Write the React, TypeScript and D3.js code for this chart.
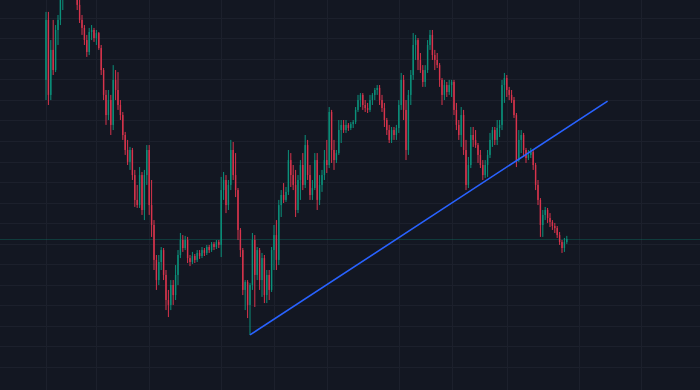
import React from "react";
import * as d3 from "d3";

// OHLC series (daily bars)
const opens = [
  139.7,168.9,132.4,154.3,144.5,164.0,168.9,178.6,185.9,190.8,
  193.2,188.3,190.8,183.5,176.2,168.9,165.0,159.1,153.3,163.0,
  164.0,160.1,162.5,155.2,144.5,132.4,122.6,129.9,117.8,139.7,
  134.8,127.5,122.6,112.9,105.6,99.8,105.6,93.4,81.3,78.8,
  93.4,76.4,93.4,105.6,78.8,69.1,52.1,42.3,51.1,56.9,
  44.8,32.6,30.2,39.9,35.0,44.8,54.5,61.8,57.9,61.8,
  53.0,51.1,54.0,52.1,55.5,54.0,56.9,55.5,58.4,56.9,
  59.9,58.4,60.8,59.4,86.1,91.0,78.8,88.6,105.6,93.4,
  86.1,66.7,56.9,37.5,41.4,30.2,39.9,61.8,44.8,56.9,
  42.3,53.0,35.0,44.8,37.5,56.9,64.2,52.1,78.8,83.7,
  81.3,85.2,100.7,93.4,88.6,76.4,91.0,98.3,88.6,108.0,
  93.4,83.7,87.1,100.7,81.3,88.6,93.4,100.7,98.3,124.1,
  105.6,100.7,104.1,115.3,117.8,115.3,117.8,116.3,118.2,119.2,
  125.1,129.9,132.4,127.5,126.0,125.1,129.9,132.4,134.8,135.8,
  129.9,126.0,120.2,115.3,110.5,115.3,112.9,116.3,127.5,139.7,
  125.1,105.6,132.4,142.1,156.7,159.1,149.4,144.5,138.7,144.5,
  156.7,161.6,151.8,149.4,146.9,139.7,132.4,137.2,133.8,137.2,
  138.7,125.1,117.8,112.9,122.6,105.6,88.6,98.3,112.9,110.5,
  108.0,103.2,98.3,93.4,98.3,103.2,110.5,115.3,110.5,116.3,
  117.8,137.2,140.6,134.8,132.4,129.9,122.6,100.7,110.5,112.9,
  105.6,101.7,103.2,104.6,98.3,88.6,81.3,69.1,74.0,76.4,
  72.5,70.6,68.6,67.6,64.2,60.8,57.9,60.8,
];
const highs = [
  172.8,172.8,159.1,168.9,166.4,171.3,181.0,188.3,195.6,197.1,
  195.6,193.2,193.2,185.9,178.6,171.3,166.4,161.6,165.0,166.4,
  165.0,164.0,163.0,156.7,145.5,134.8,134.8,132.4,146.9,144.5,
  143.5,129.9,124.1,114.4,110.5,107.1,106.6,95.9,88.6,97.3,
  94.9,95.9,108.0,108.0,91.0,71.5,54.5,54.5,58.4,57.9,
  47.2,37.5,42.3,42.3,49.6,56.9,65.2,64.2,63.8,63.3,
  54.5,56.0,55.0,56.9,56.9,58.4,57.9,59.4,59.4,60.8,
  60.8,61.8,61.8,92.5,94.9,93.4,91.0,110.5,109.5,104.1,
  87.1,67.6,57.9,42.3,42.3,40.9,65.2,64.2,58.4,57.9,
  55.5,54.5,47.2,47.2,58.4,69.1,71.5,81.3,86.1,89.5,
  87.6,105.6,104.1,98.3,95.9,93.4,100.7,104.1,112.9,110.5,
  98.3,91.0,104.1,104.1,93.4,95.9,105.6,110.5,126.5,125.1,
  110.5,105.6,120.2,120.2,120.2,120.2,118.7,119.2,120.2,126.5,
  132.4,133.3,133.3,129.9,128.5,132.4,133.3,135.8,137.2,137.2,
  132.4,128.5,121.2,117.8,116.8,116.8,117.8,129.9,143.1,142.1,
  129.9,134.8,144.5,162.5,161.6,160.1,152.8,146.9,146.9,159.1,
  164.0,164.0,154.3,152.8,147.9,140.6,139.7,138.7,139.7,139.7,
  139.7,128.5,120.2,126.5,125.1,110.5,102.2,116.8,116.8,115.3,
  109.0,105.6,100.7,100.7,105.6,113.9,116.8,116.8,120.2,120.2,
  139.7,143.1,142.1,136.3,134.8,131.4,123.6,115.3,115.3,113.9,
  106.6,105.6,106.6,105.6,99.3,91.0,82.2,76.4,77.9,77.4,
  74.9,71.5,70.1,68.6,65.7,61.8,62.8,63.8,
];
const lows = [
  129.9,127.5,129.9,142.1,143.5,156.7,166.4,173.7,183.5,188.3,
  185.9,184.4,181.0,173.7,167.4,161.6,156.7,150.9,151.8,159.1,
  158.2,156.7,154.3,142.1,129.9,117.8,120.2,112.9,115.3,129.9,
  125.1,120.2,110.5,103.2,98.3,95.9,91.0,77.9,77.4,77.4,
  74.0,71.5,88.6,74.0,63.3,47.2,37.5,39.9,47.2,42.3,
  27.7,24.3,27.7,30.2,32.6,39.9,53.0,56.0,56.9,50.6,
  49.1,50.1,50.6,51.1,52.6,53.0,54.0,54.5,55.5,56.0,
  56.9,57.4,57.9,53.5,81.3,74.9,76.4,86.1,91.0,82.7,
  61.8,53.5,35.0,27.7,23.8,15.6,37.5,29.2,42.3,37.5,
  34.1,31.1,31.1,32.6,36.5,47.2,47.2,49.6,73.0,79.8,
  80.3,83.7,87.6,86.1,73.0,74.9,81.3,86.1,87.1,91.0,
  81.3,81.3,86.1,76.4,78.8,85.2,91.0,94.4,96.8,99.3,
  95.9,99.3,103.2,109.0,113.9,113.9,114.9,115.3,116.3,118.2,
  124.1,126.5,125.1,124.1,123.6,124.1,127.5,129.9,132.4,127.5,
  124.1,116.8,112.9,109.0,109.0,110.5,110.5,113.9,125.1,120.2,
  100.7,103.2,127.5,139.7,149.4,144.5,143.1,136.3,136.3,143.1,
  154.3,149.4,144.5,145.5,136.3,127.5,129.9,131.4,132.4,131.4,
  122.6,115.3,110.5,107.1,103.2,86.1,87.1,96.8,107.1,106.6,
  99.3,96.8,91.0,92.0,92.5,101.7,107.1,108.0,108.0,111.9,
  115.3,128.5,131.4,129.9,128.5,121.2,97.3,99.8,104.1,102.2,
  99.3,100.7,101.7,95.9,86.1,78.8,63.3,63.3,71.5,70.1,
  68.1,66.7,65.2,62.8,59.4,55.5,56.0,59.9,
];
const closes = [
  168.9,132.4,154.3,144.5,164.0,168.9,178.6,185.9,190.8,193.2,
  188.3,190.8,183.5,176.2,168.9,165.0,159.1,153.3,163.0,164.0,
  160.1,162.5,155.2,144.5,132.4,122.6,129.9,117.8,139.7,134.8,
  127.5,122.6,112.9,105.6,99.8,105.6,93.4,81.3,78.8,93.4,
  76.4,93.4,105.6,78.8,69.1,52.1,42.3,51.1,56.9,44.8,
  32.6,30.2,39.9,35.0,44.8,54.5,61.8,57.9,61.8,53.0,
  51.1,54.0,52.1,55.5,54.0,56.9,55.5,58.4,56.9,59.9,
  58.4,60.8,59.4,86.1,91.0,78.8,88.6,105.6,93.4,86.1,
  66.7,56.9,37.5,41.4,30.2,39.9,61.8,44.8,56.9,42.3,
  53.0,35.0,44.8,37.5,56.9,64.2,52.1,78.8,83.7,81.3,
  85.2,100.7,93.4,88.6,76.4,91.0,98.3,88.6,108.0,93.4,
  83.7,87.1,100.7,81.3,88.6,93.4,100.7,98.3,124.1,105.6,
  100.7,104.1,115.3,117.8,115.3,117.8,116.3,118.2,119.2,125.1,
  129.9,132.4,127.5,126.0,125.1,129.9,132.4,134.8,135.8,129.9,
  126.0,120.2,115.3,110.5,115.3,112.9,116.3,127.5,139.7,125.1,
  105.6,132.4,142.1,156.7,159.1,149.4,144.5,138.7,144.5,156.7,
  161.6,151.8,149.4,146.9,139.7,132.4,137.2,133.8,137.2,138.7,
  125.1,117.8,112.9,122.6,105.6,88.6,98.3,112.9,110.5,108.0,
  103.2,98.3,93.4,98.3,103.2,110.5,115.3,110.5,116.3,117.8,
  137.2,140.6,134.8,132.4,129.9,122.6,100.7,110.5,112.9,105.6,
  101.7,103.2,104.6,98.3,88.6,81.3,69.1,74.0,76.4,72.5,
  70.6,68.6,67.6,64.2,60.8,57.9,60.8,62.3,
];

// time-scale grid marks (bar indices) and price grid levels
const timeTicks = [0, 21, 43, 73, 95, 117, 147, 169, 192, 222, 248];
const priceTicks = [0, 10, 20, 30, 40, 50, 60, 70, 80, 90, 100, 110, 120, 130, 140, 150, 160, 170, 180];

// drawn trend line: [bar index, price]
const trendStart = [85, 15.6];
const trendEnd = [234, 129.4];

const W = 700;
const H = 390;
const BG = "#131722";
const GRID = "#1c202c";
const UP = "#0b907a";
const DOWN = "#d8344c";
const TREND = "#2962ff";

export default function App() {
  const n = closes.length;
  const x = d3.scaleLinear().domain([0, n - 1]).range([46, 566.8]);
  const y = d3.scaleLinear().domain([0, 170]).range([367, 17.65]);
  const bodyW = 1.4;
  const last = closes[n - 1];
  const line = d3.line<number[]>().x((d) => x(d[0])).y((d) => y(d[1]));

  return (
    <svg
      width={W}
      height={H}
      style={{ position: "fixed", left: 0, top: 0, display: "block" }}
    >
      <rect x={0} y={0} width={W} height={H} fill={BG} />
      <g>
        {priceTicks.map((t) => (
          <line key={"h" + t} x1={0} x2={W} y1={Math.round(y(t)) + 0.5} y2={Math.round(y(t)) + 0.5} stroke={GRID} strokeWidth={1} />
        ))}
        {timeTicks.map((t) => (
          <line key={"v" + t} y1={0} y2={H} x1={Math.round(x(t)) + 0.5} x2={Math.round(x(t)) + 0.5} stroke={GRID} strokeWidth={1} />
        ))}
      </g>
      <line x1={0} x2={W} y1={Math.round(y(last)) + 0.5} y2={Math.round(y(last)) + 0.5} stroke={UP} strokeOpacity={0.3} strokeWidth={1} />
      <g>
        {closes.map((c, i) => {
          const o = opens[i];
          const up = c >= o;
          const col = up ? UP : DOWN;
          const cx = x(i);
          const top = y(Math.max(o, c));
          const bot = y(Math.min(o, c));
          return (
            <g key={i}>
              <line x1={cx} x2={cx} y1={y(highs[i])} y2={y(lows[i])} stroke={col} strokeWidth={1} />
              <rect x={cx - bodyW / 2} y={top} width={bodyW} height={Math.max(1, bot - top)} fill={col} />
            </g>
          );
        })}
      </g>
      <path d={line([trendStart, trendEnd]) || ""} fill="none" stroke={TREND} strokeWidth={1.6} />
    </svg>
  );
}
